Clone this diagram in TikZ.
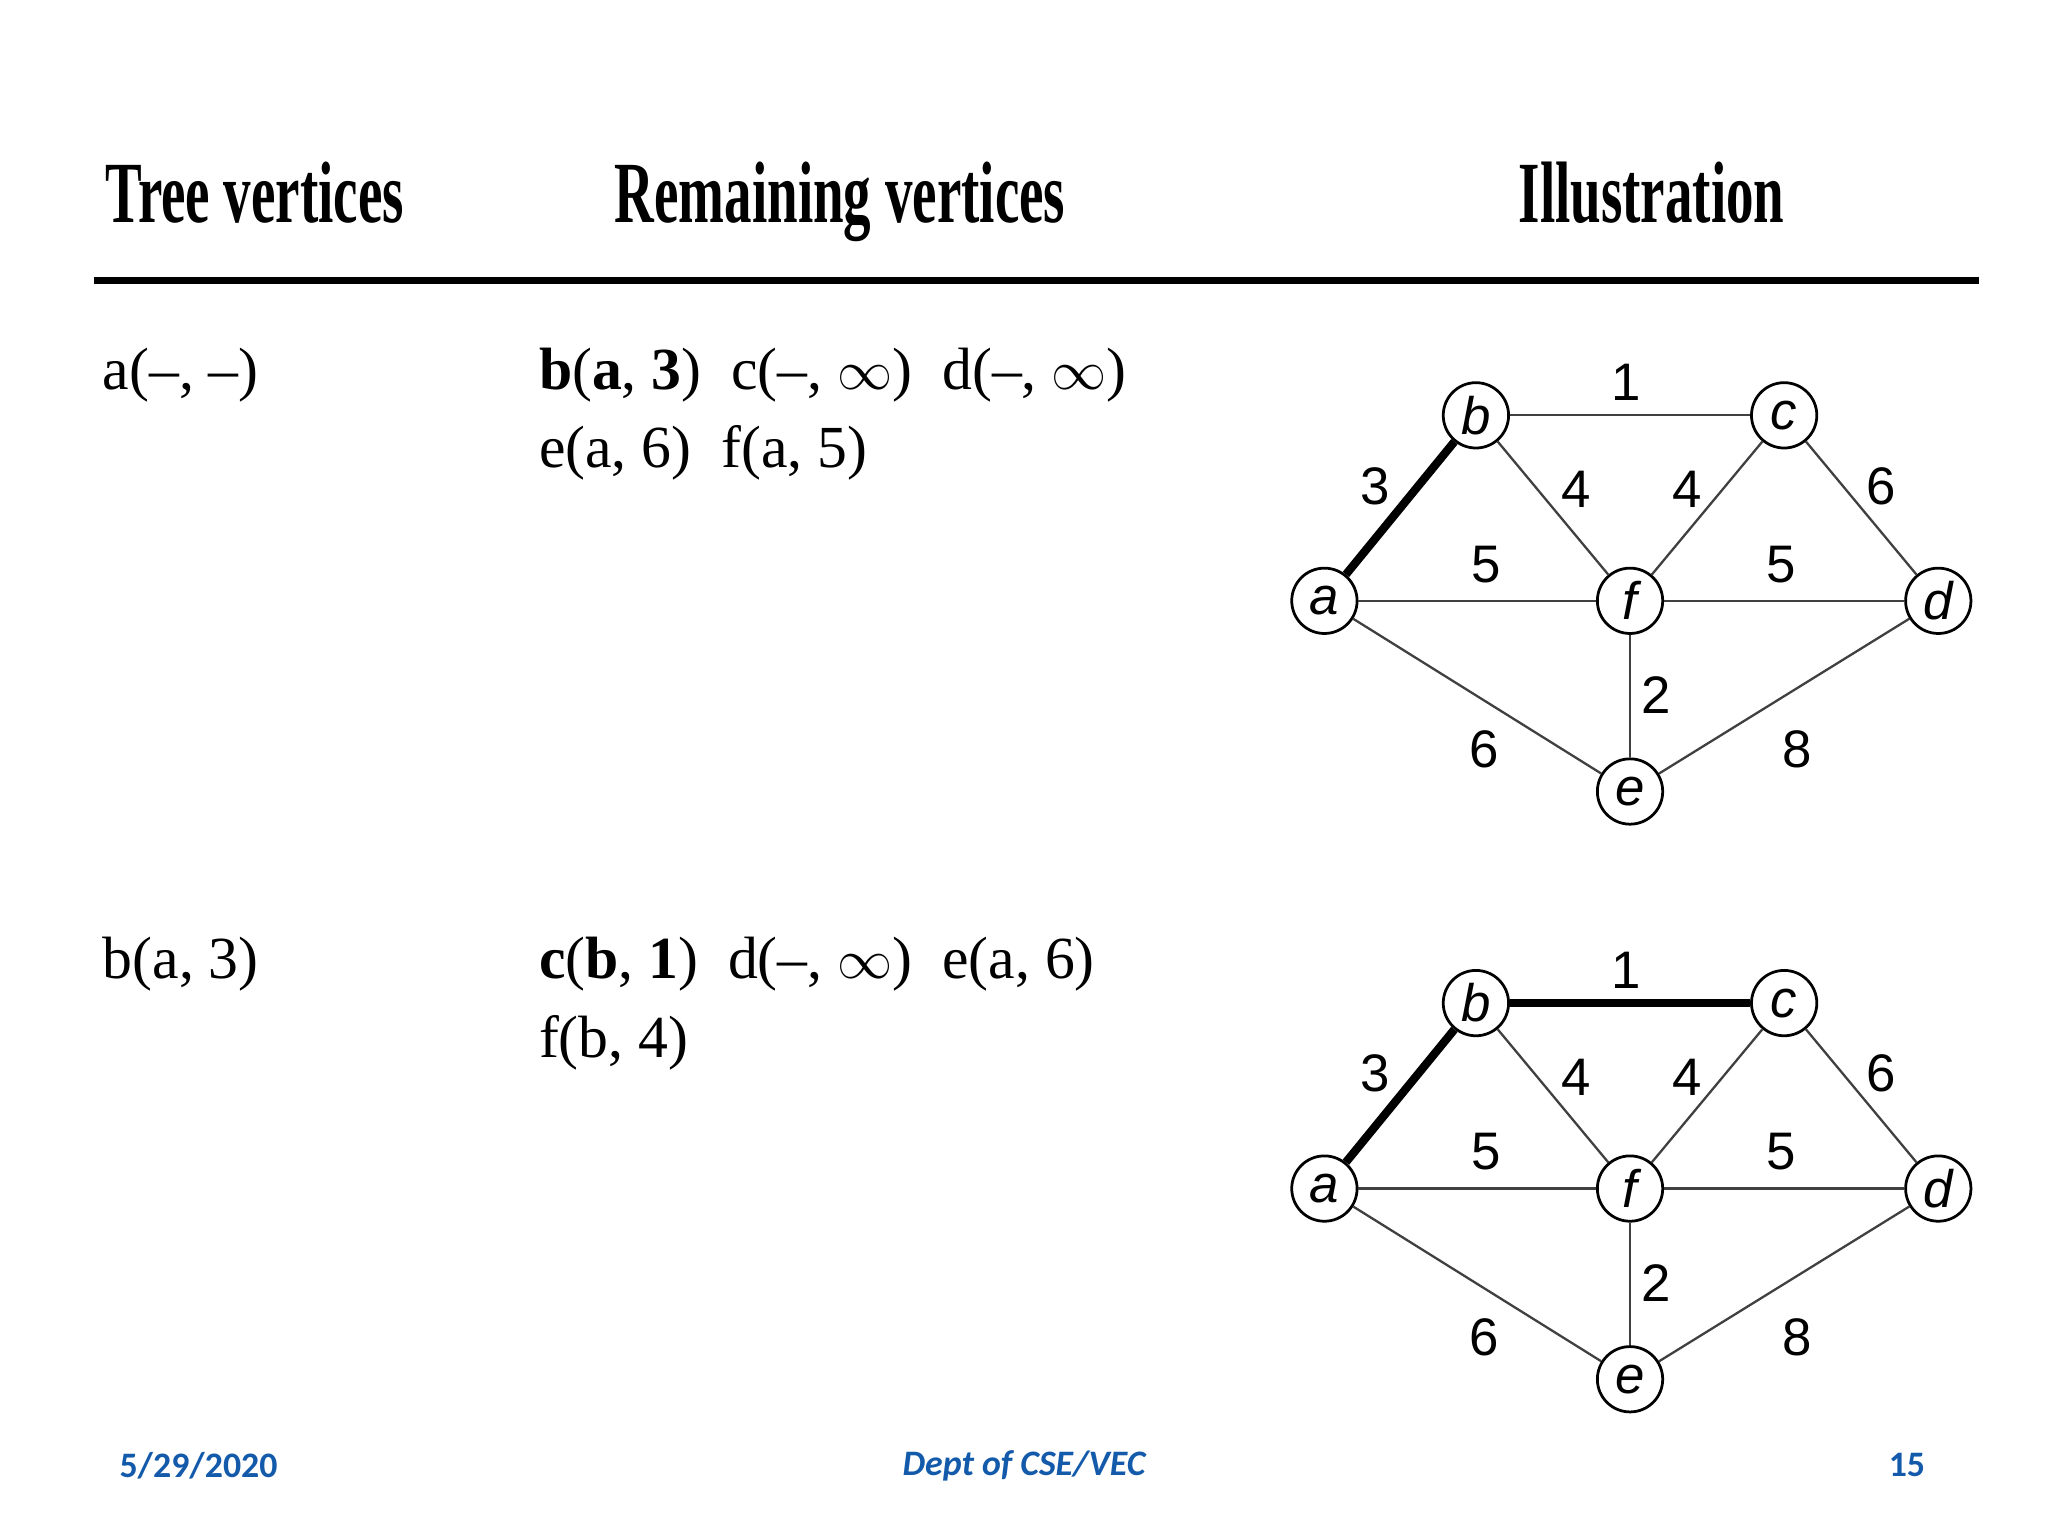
\documentclass[tikz,border=0pt]{standalone}
\usepackage{fontspec}
\setmainfont{Liberation Serif}
\newfontfamily\gsans{Liberation Sans}
\newfontfamily\fsans{Carlito}
\definecolor{fblue}{RGB}{20,90,170}
\begin{document}
\begin{tikzpicture}[x=0.01cm,y=-0.01cm,
 hd/.style={inner sep=0,anchor=base west,font=\fontsize{19}{22}\selectfont\bfseries},
 rt/.style={inner sep=0,anchor=base west,font=\fontsize{13}{16}\selectfont},
 v/.style={circle,draw,line width=0.6pt,minimum size=0.5cm,inner sep=0,font=\gsans\fontsize{11.5}{13}\selectfont\itshape},
 el/.style={inner sep=0,font=\gsans\fontsize{11.5}{13}\selectfont},
 e/.style={line width=0.5pt,draw=black!75},
 t/.style={line width=1.8pt},
 ft/.style={inner sep=0,font=\fsans\fontsize{7.8}{9}\selectfont\bfseries,text=fblue}]
\useasboundingbox (0,0) rectangle (1568,1176);
\node[hd] (h1) at (80,170) {\scalebox{0.63}[1]{Tree vertices}};
\node[hd] (h2) at (470,170) {\scalebox{0.63}[1]{Remaining vertices}};
\node[hd] (h3) at (1162,170) {\scalebox{0.63}[1]{Illustration}};
\draw[line width=1.6pt] (72,215) -- (1515,215);
\node[rt] (r1) at (78,298) {a(–, –)};
\node[rt] (r2) at (412,298) {\textbf{b}(\textbf{a}, \textbf{3})\ \ c(–, $\infty$)\ \ d(–, $\infty$)};
\node[rt] (r3) at (412,358) {e(a, 6)\ \ f(a, 5)};
\node[rt] (r4) at (78,749) {b(a, 3)};
\node[rt] (r5) at (412,749) {\textbf{c}(\textbf{b}, \textbf{1})\ \ d(–, $\infty$)\ \ e(a, 6)};
\node[rt] (r6) at (412,810) {f(b, 4)};
\foreach \k/\dy/\bc in {1/0/e,2/450/t}{
\begin{scope}[yshift=-\dy*0.01cm]
\node[v] (b\k) at (1130,318) {b};
\node[v] (c\k) at (1366,318) {c};
\node[v] (a\k) at (1014,460) {a};
\node[v] (f\k) at (1248,460) {f};
\node[v] (d\k) at (1484,460) {d};
\node[v] (e\k) at (1248,606) {e};
\draw[t] (a\k)--(b\k);
\draw[\bc] (b\k)--(c\k);
\draw[e] (b\k)--(f\k); \draw[e] (c\k)--(f\k); \draw[e] (c\k)--(d\k);
\draw[e] (a\k)--(f\k); \draw[e] (f\k)--(d\k); \draw[e] (f\k)--(e\k);
\draw[e] (a\k)--(e\k); \draw[e] (e\k)--(d\k);
\node[el] (l1\k) at (1245,293) {1};
\node[el] (l2\k) at (1053,372) {3};
\node[el] (l3\k) at (1207,375) {4};
\node[el] (l4\k) at (1292,375) {4};
\node[el] (l5\k) at (1440,372) {6};
\node[el] (l6\k) at (1138,432) {5};
\node[el] (l7\k) at (1364,432) {5};
\node[el] (l8\k) at (1268,532) {2};
\node[el] (l9\k) at (1136,574) {6};
\node[el] (l0\k) at (1376,574) {8};
\end{scope}}
\node[ft] (f1) at (152,1122) {5/29/2020};
\node[ft] (f2) at (784,1122) {\itshape Dept of CSE/VEC};
\node[ft] (f3) at (1460,1122) {15};
\end{tikzpicture}
\end{document}
